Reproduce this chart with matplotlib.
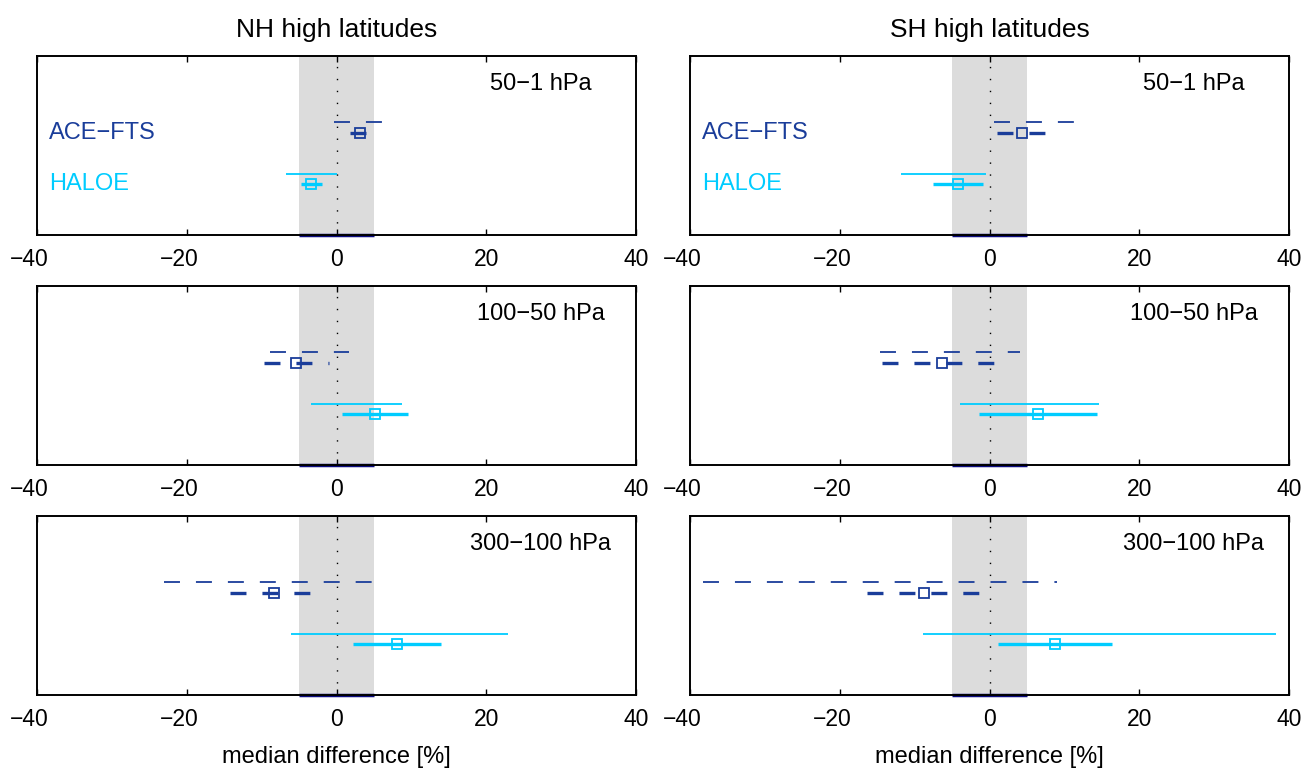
import matplotlib
matplotlib.use("Agg")
import matplotlib.pyplot as plt
import matplotlib.transforms as mtransforms

plt.rcParams['font.family'] = ['Liberation Sans', 'DejaVu Sans']
plt.rcParams['lines.scale_dashes'] = False

# ---------------- data ----------------
hemispheres = ["NH high latitudes", "SH high latitudes"]
layers = ["50−1 hPa", "100−50 hPa", "300−100 hPa"]
instruments = ["ACE−FTS", "HALOE"]

# ACE-FTS, NH (per layer: 50-1, 100-50, 300-100 hPa)
ace_nh_median = [3.2, -5.4, -8.3]
ace_nh_thick_lo = [1.8, -9.7, -14.2]
ace_nh_thick_hi = [4.0, -1.0, -3.5]
ace_nh_thin_lo = [-0.3, -8.9, -23.1]
ace_nh_thin_hi = [6.1, 1.7, 4.8]

# ACE-FTS, SH
ace_sh_median = [4.3, -6.4, -8.7]
ace_sh_thick_lo = [1.0, -14.3, -16.3]
ace_sh_thick_hi = [7.4, 0.7, -1.3]
ace_sh_thin_lo = [0.6, -14.6, -38.2]
ace_sh_thin_hi = [11.3, 4.1, 9.0]

# HALOE, NH
haloe_nh_median = [-3.4, 5.2, 8.1]
haloe_nh_thick_lo = [-4.8, 0.8, 2.2]
haloe_nh_thick_hi = [-1.9, 9.6, 14.0]
haloe_nh_thin_lo = [-6.8, -3.4, -6.1]
haloe_nh_thin_hi = [0.0, 8.8, 22.9]

# HALOE, SH
haloe_sh_median = [-4.2, 6.5, 8.8]
haloe_sh_thick_lo = [-7.5, -1.4, 1.2]
haloe_sh_thick_hi = [-0.9, 14.4, 16.4]
haloe_sh_thin_lo = [-11.8, -4.0, -8.9]
haloe_sh_thin_hi = [-0.5, 14.6, 38.3]

band = [-5, 5]
xticks = [-40, -20, 0, 20, 40]
xtick_labels = ["−40", "−20", "0", "20", "40"]
xlabel = "median difference [%]"

# ---------------- style ----------------
ACE_COL = "#1a3d9a"
HAL_COL = "#00ccff"
row_y = {"ACE−FTS": 4.0, "HALOE": 2.0}
thin_dy = 0.4

series = {
    ("NH high latitudes", "ACE−FTS"): (ace_nh_median, ace_nh_thick_lo, ace_nh_thick_hi, ace_nh_thin_lo, ace_nh_thin_hi),
    ("SH high latitudes", "ACE−FTS"): (ace_sh_median, ace_sh_thick_lo, ace_sh_thick_hi, ace_sh_thin_lo, ace_sh_thin_hi),
    ("NH high latitudes", "HALOE"): (haloe_nh_median, haloe_nh_thick_lo, haloe_nh_thick_hi, haloe_nh_thin_lo, haloe_nh_thin_hi),
    ("SH high latitudes", "HALOE"): (haloe_sh_median, haloe_sh_thick_lo, haloe_sh_thick_hi, haloe_sh_thin_lo, haloe_sh_thin_hi),
}
colors = {"ACE−FTS": ACE_COL, "HALOE": HAL_COL}

fig = plt.figure(figsize=(13.04, 7.72), dpi=100)
lefts = [37 / 1304, 690 / 1304]
width = 599 / 1304
bottoms = [(772 - 235) / 772, (772 - 465) / 772, (772 - 695) / 772]
height = 179 / 772

neg_offset = mtransforms.ScaledTranslation(-7.5 / 100, 0, fig.dpi_scale_trans)

for c, hemi in enumerate(hemispheres):
    for r, layer in enumerate(layers):
        ax = fig.add_axes([lefts[c], bottoms[r], width, height])
        ax.set_xlim(-40, 40)
        ax.set_ylim(0, 7)
        ax.axvspan(band[0], band[1], color="#dcdcdc", zorder=0, lw=0)
        ax.plot(band, [0, 0], color="#0b0b80", lw=2.5, clip_on=False, zorder=3,
                solid_capstyle='butt')
        ax.axvline(0, color="k", lw=1.0, ls=(0, (1.0, 7.6)), zorder=1)

        for inst in instruments:
            med, tlo, thi, nlo, nhi = series[(hemi, inst)]
            y = row_y[inst]
            col = colors[inst]
            if inst == "ACE−FTS":
                thin_ls = (0, (11.5, 11.5))
                thick_ls = (0, (11.5, 11.5))
            else:
                thin_ls = "-"
                thick_ls = "-"
            ax.plot([nlo[r], nhi[r]], [y + thin_dy, y + thin_dy], color=col, lw=1.3,
                    ls=thin_ls, dash_capstyle='butt', solid_capstyle='butt', zorder=2)
            ax.plot([tlo[r], thi[r]], [y, y], color=col, lw=2.4,
                    ls=thick_ls, dash_capstyle='butt', solid_capstyle='butt', zorder=2)
            ax.plot([med[r]], [y], marker="s", ms=7.6, mfc="none", mec=col, mew=1.3,
                    ls="none", zorder=4)

            if r == 0:
                ax.text(-38.4, y, inst, color=col, fontsize=17, ha="left", va="center")

        trans = mtransforms.blended_transform_factory(ax.transData, ax.transAxes)
        ax.text(27.3, 0.81, layer, transform=trans, fontsize=17, ha="center", va="baseline")

        ax.set_yticks([])
        ax.set_xticks(xticks)
        ax.set_xticklabels(xtick_labels)
        ax.tick_params(axis="x", direction="in", length=4, width=1, pad=9,
                       labelsize=16.5, top=True, bottom=True)
        for sp in ax.spines.values():
            sp.set_linewidth(1.4)
            sp.set_zorder(5)
        for tick in ax.xaxis.get_major_ticks():
            if tick.label1.get_text().startswith("−"):
                tick.label1.set_transform(tick.label1.get_transform() + neg_offset)

        if r == 0:
            ax.text(0.5, 1 + 19.3 / 179, hemi, transform=ax.transAxes, fontsize=19,
                    ha="center", va="baseline")
        if r == 2:
            ax.text(0.5, -68 / 178, xlabel, transform=ax.transAxes, fontsize=17,
                    ha="center", va="baseline")

fig.savefig("out.png", dpi=100)
